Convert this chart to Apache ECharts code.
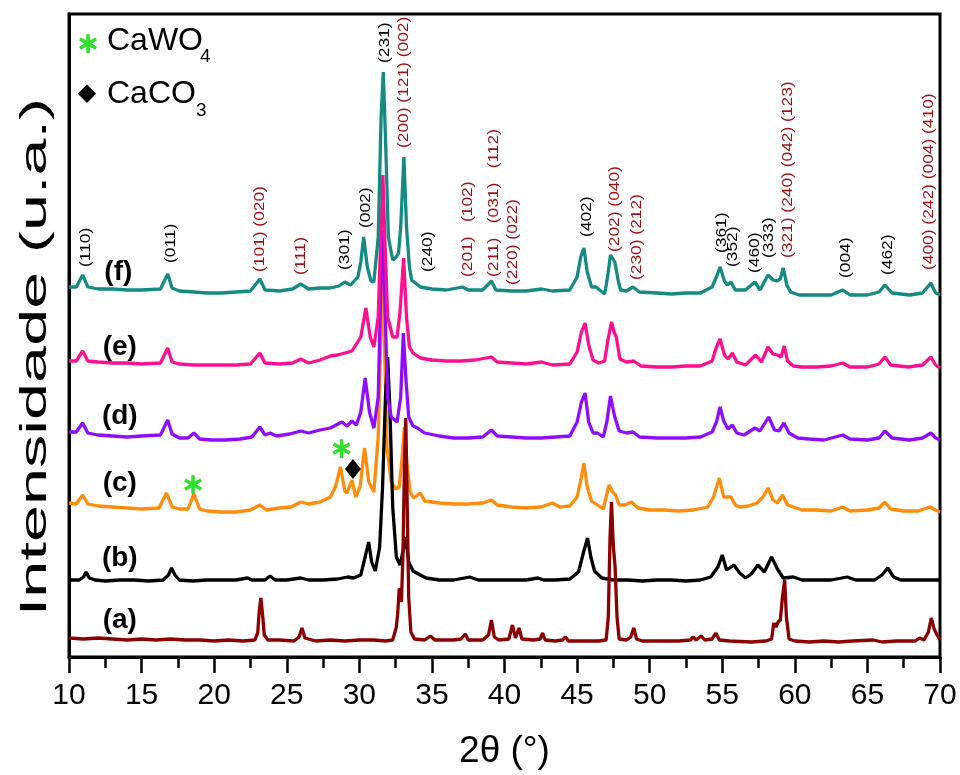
<!DOCTYPE html>
<html><head><meta charset="utf-8">
<script src="https://cdn.jsdelivr.net/npm/echarts@6/dist/echarts.min.js"></script>
<style>html,body{margin:0;padding:0;background:#fff}#c{width:960px;height:775px}</style>
</head><body><div id="c"></div>
<script>
// 2θ (degrees) vs intensity (u.a., patterns already offset vertically)
const patternA = [[10,19],[11,18],[12,19],[13,18],[14,17],[15,18],[16,17],[17,18],[18,17],[19,17],[20,16],[21,17],[22,16],[22.8,17],[23.0,24],[23.1,45],[23.22,59],[23.35,40],[23.45,22],[23.7,17],[24.5,17],[25.5,16],[25.85,20],[26.05,29],[26.25,19],[27,16],[28,17],[29,16],[30,17],[31,17],[31.8,16],[32.3,17],[32.55,30],[32.65,45],[32.75,69],[32.9,55],[33.0,100],[33.12,200],[33.2,239],[33.3,150],[33.4,60],[33.55,25],[33.8,18],[34.5,17],[34.9,21],[35.2,17],[36.5,17],[37.0,18],[37.3,23],[37.5,17],[38.5,17],[38.9,22],[39.1,37],[39.3,20],[39.6,17],[40.3,18],[40.55,32],[40.75,19],[41.0,29],[41.2,18],[42.0,17],[42.45,18],[42.62,24],[42.8,17],[43.5,16],[44.0,17],[44.2,20],[44.4,16],[45.5,16],[46.5,16],[47.0,17],[47.15,40],[47.27,120],[47.37,155],[47.5,110],[47.62,90],[47.75,40],[47.9,18],[48.4,17],[48.7,20],[48.9,29],[49.1,18],[49.5,16],[51,16],[52,16],[52.8,17],[53.0,20],[53.2,17],[53.55,21],[53.8,17],[54.3,18],[54.55,24],[54.8,17],[55.5,16],[57,15],[58.0,16],[58.4,18],[58.55,34],[58.7,30],[58.85,35],[59.0,37],[59.15,60],[59.3,77],[59.42,40],[59.6,18],[60,16],[61,15],[62,16],[63,15],[64,16],[65.4,17],[66,15],[67,16],[68.3,16],[68.6,19],[68.9,17],[69.2,25],[69.4,39],[69.6,28],[69.8,22],[70,17]];
const patternB = [[10,77],[10.7,77],[11.0,80],[11.17,85],[11.4,79],[11.8,77],[12.5,76],[13.5,77],[14.5,77],[15.5,76],[16.5,77],[16.85,82],[17.07,89],[17.3,82],[17.6,77],[18.5,76],[19.5,77],[20.5,77],[21.5,77],[22.3,79],[22.6,77],[23.5,77],[23.85,81],[24.2,77],[25.0,77],[25.96,79],[26.5,77],[27.5,77],[28.5,78],[29.2,80],[29.6,79],[30.1,82],[30.4,100],[30.64,115],[30.85,95],[31.1,86],[31.4,110],[31.6,170],[31.8,260],[31.95,300],[32.1,250],[32.3,150],[32.55,100],[32.8,92],[33.0,105],[33.2,120],[33.4,95],[33.7,86],[34.2,82],[34.6,79],[35.5,77],[36.5,77],[37.6,80],[38.2,77],[39.5,77],[40.5,77],[41.5,77],[42.3,79],[42.7,77],[43.5,77],[44.5,78],[45.1,85],[45.45,105],[45.72,119],[45.95,100],[46.2,86],[46.7,79],[47.5,77],[48.5,77],[49.5,76],[50.5,77],[51.5,77],[52.5,76],[53.5,77],[54.2,80],[54.7,90],[55.0,102],[55.3,87],[55.8,92],[56.2,84],[56.6,79],[57.0,83],[57.45,92],[57.9,85],[58.4,100],[58.8,88],[59.2,79],[59.9,80],[60.5,77],[61.5,77],[62.5,77],[63.6,80],[64.2,77],[65.5,77],[66.0,82],[66.4,89],[66.8,80],[67.3,77],[68.5,77],[69.5,77],[70,77]];
const patternC = [[10,154],[10.5,153],[10.94,162],[11.3,153],[12,151],[13,150],[14,149],[15,148],[16.2,149],[16.72,164],[17.1,150],[17.6,148],[18.2,148],[18.6,163],[19.0,148],[19.5,146],[20.5,145],[21.5,145],[22.5,147],[23.15,152],[23.6,147],[24.5,149],[25.3,150],[25.96,155],[26.5,153],[27.3,155],[28.0,160],[28.35,170],[28.7,190],[29.0,166],[29.15,164],[29.5,177],[29.75,160],[30.05,170],[30.36,209],[30.65,175],[31.0,165],[31.3,220],[31.5,330],[31.6,377],[31.72,320],[31.9,210],[32.2,175],[32.5,168],[32.75,170],[32.95,200],[33.1,230],[33.3,190],[33.5,165],[33.75,159],[34.2,164],[34.5,156],[35.5,154],[36.5,153],[37.5,153],[38.5,154],[39.1,157],[39.5,152],[40.5,150],[41.5,149],[42.5,150],[43.3,154],[43.8,150],[44.5,151],[45.0,160],[45.3,180],[45.47,194],[45.7,170],[46.0,156],[46.4,152],[46.8,148],[47.0,160],[47.2,172],[47.45,165],[47.65,162],[47.9,152],[48.3,152],[48.75,155],[49.2,149],[50,147],[51,147],[52,146],[53,147],[54.0,150],[54.4,160],[54.8,179],[55.1,160],[55.6,160],[55.9,152],[56.2,150],[56.8,151],[57.4,154],[57.8,160],[58.16,169],[58.5,157],[58.8,154],[59.15,162],[59.5,152],[59.9,150],[60.5,147],[61.5,147],[62.5,146],[63.3,150],[63.8,146],[65.0,147],[65.8,149],[66.2,155],[66.6,148],[67.5,146],[68.5,146],[69.3,150],[69.7,147],[70,145]];
const patternD = [[10,225],[10.5,225],[10.94,234],[11.3,224],[12,222],[13,221],[14,220],[15,221],[16.3,222],[16.8,237],[17.1,223],[17.6,219],[18.2,219],[18.6,224],[19.0,218],[19.8,217],[20.8,217],[21.8,218],[22.6,220],[23.15,230],[23.5,222],[23.85,224],[24.3,221],[25.2,223],[25.96,226],[26.5,224],[27.3,227],[28.0,229],[28.8,235],[29.15,231],[29.5,236],[29.8,232],[30.1,245],[30.4,279],[30.7,245],[31.0,229],[31.3,260],[31.5,380],[31.62,427],[31.75,360],[31.95,260],[32.2,240],[32.6,235],[32.85,260],[33.03,324],[33.2,280],[33.4,240],[33.7,231],[34.0,229],[34.5,224],[35.5,221],[36.5,219],[37.5,219],[38.5,220],[39.1,227],[39.5,221],[40.5,220],[41.5,219],[42.5,219],[43.5,220],[44.5,221],[45.0,235],[45.3,255],[45.55,264],[45.8,235],[46.1,224],[46.4,224],[46.8,220],[47.05,235],[47.3,261],[47.45,250],[47.6,240],[47.9,226],[48.4,224],[48.85,225],[49.3,220],[50.5,219],[51.5,219],[52.5,219],[53.5,220],[54.3,225],[54.6,235],[54.85,250],[55.1,236],[55.4,228],[55.7,232],[56.0,224],[56.5,222],[57.25,229],[57.6,226],[58.2,240],[58.6,227],[58.9,226],[59.25,234],[59.6,224],[60.2,219],[61.0,218],[62.0,217],[63.3,222],[63.8,218],[65.0,217],[65.8,219],[66.2,226],[66.7,219],[67.9,217],[68.8,219],[69.37,224],[69.7,219],[70,217]];
const patternE = [[10,296],[10.5,296],[10.94,306],[11.3,296],[12,295],[13,294],[14,294],[15,293],[16.3,294],[16.8,309],[17.1,295],[17.6,293],[18.6,292],[19.5,292],[20.5,292],[21.5,292],[22.5,293],[23.15,304],[23.5,294],[24.5,293],[25.4,294],[25.96,298],[26.5,294],[27.3,297],[28.0,301],[28.5,302],[29.0,304],[29.5,306],[30.1,320],[30.45,349],[30.75,320],[31.0,310],[31.3,340],[31.5,430],[31.62,482],[31.75,420],[31.95,340],[32.3,320],[32.6,320],[32.8,345],[33.05,399],[33.25,340],[33.45,310],[33.7,304],[34.2,299],[35.0,297],[36.0,296],[37.0,296],[38.0,297],[39.1,300],[39.5,295],[40.5,294],[41.5,293],[42.55,295],[43.3,292],[44.5,293],[45.0,305],[45.3,325],[45.55,334],[45.8,312],[46.1,297],[46.5,294],[46.9,296],[47.1,315],[47.37,335],[47.55,325],[47.7,320],[47.95,298],[48.4,295],[48.9,296],[49.4,291],[50.5,290],[51.5,290],[52.5,291],[53.5,291],[54.3,296],[54.6,310],[54.85,318],[55.15,302],[55.4,298],[55.7,304],[56.0,295],[56.6,292],[57.3,302],[57.7,295],[58.15,310],[58.5,303],[58.8,302],[59.05,300],[59.27,311],[59.5,296],[59.9,291],[60.5,290],[61.5,290],[62.5,291],[63.3,294],[63.8,290],[65.0,290],[65.8,293],[66.2,300],[66.6,292],[67.8,290],[68.8,292],[69.37,300],[69.7,292],[70,289]];
const patternF = [[10,370],[10.5,370],[10.94,382],[11.3,370],[12,368],[13,368],[14,367],[15,367],[16.3,368],[16.8,383],[17.1,369],[17.6,366],[18.6,365],[19.5,364],[20.5,364],[21.5,365],[22.5,366],[23.15,378],[23.5,367],[24.5,366],[25.4,368],[25.96,373],[26.5,368],[27.3,369],[28.0,369],[28.6,371],[29.0,375],[29.4,372],[29.9,380],[30.1,395],[30.3,420],[30.55,390],[30.8,376],[31.0,375],[31.3,420],[31.5,540],[31.65,585],[31.8,520],[32.0,420],[32.3,397],[32.55,400],[32.7,404],[32.85,430],[33.07,500],[33.25,430],[33.45,390],[33.6,377],[34.2,370],[35.0,368],[36.0,367],[37.1,370],[37.5,367],[38.5,367],[39.1,376],[39.4,367],[40.5,366],[41.5,366],[42.55,368],[43.3,366],[44.5,367],[45.0,380],[45.25,400],[45.47,409],[45.7,385],[46.0,370],[46.3,370],[46.9,363],[47.1,380],[47.3,402],[47.6,395],[47.85,375],[48.0,367],[48.4,366],[48.85,370],[49.3,365],[50.5,364],[51.5,363],[52.5,364],[53.5,364],[54.3,370],[54.6,380],[54.85,390],[55.15,376],[55.35,372],[55.6,375],[55.9,367],[56.6,367],[57.25,375],[57.6,367],[58.15,382],[58.5,377],[58.75,376],[59.0,378],[59.2,389],[59.45,372],[59.7,365],[60.3,362],[61.5,362],[62.5,362],[63.3,367],[63.8,362],[65.0,362],[65.8,365],[66.2,372],[66.7,364],[67.9,362],[68.8,364],[69.37,374],[69.7,364],[70,362]];

const sampleNames = ['(a)','(b)','(c)','(d)','(e)','(f)'];
const sampleColors = ['#8b0000','#000000','#ff8c0a','#8f0cff','#ff0f8f','#138a82'];
// Miller index annotations: [2θ, intensity at label bottom, text, phase(0=black,1=red)]
const hklLabels = [
  [11.17,390,'(110)',0],[17.02,394,'(011)',0],[23.15,385,'(101) (020)',1],[25.98,382,'(111)',1],
  [29.0,387,'(301)',0],[30.45,429,'(002)',0],[31.76,594,'(231)',0],[33.07,509,'(200) (121) (002)',1],
  [34.72,385,'(240)',0],[37.48,380,'(201)   (102)',1],[39.27,380,'(211)   (031)   (112)',1],[40.58,372,'(220) (022)',1],
  [45.67,420,'(402)',0],[47.6,405,'(202) (040)',1],[49.12,377,'(230) (212)',1],[54.97,404,'(361)',0],
  [55.73,390,'(352)',0],[57.25,384,'(460)',0],[58.2,399,'(333)',0],[59.52,399,'(321) (240) (042) (123)',1],
  [63.5,379,'(004)',0],[66.4,382,'(462)',0],[69.23,387,'(400) (242) (004) (410)',1]
];
// sample label positions [2θ, intensity]
const sampleLabelPos = [[13.5,37],[13.5,99],[13.5,174],[13.5,241],[13.5,310],[13.4,385]];
const phaseMarks = {caWO4: [[18.54,173],[28.78,209]], caCO3: [[29.56,188]]};

const FONT = 'Liberation Sans, Arial, Helvetica, sans-serif';
const chart = echarts.init(document.getElementById('c'), null, {renderer:'canvas'});
const datasets = [patternA, patternB, patternC, patternD, patternE, patternF];
const drawOrder = [2,1,3,4,5,0];
const series = drawOrder.map(i => ({
  type:'line', name: sampleNames[i], data: datasets[i], showSymbol:false, symbol:'none',
  lineStyle:{color: sampleColors[i], width:3.3}, itemStyle:{color:sampleColors[i]}, animation:false, z: 2,
  markPoint: i === 2 ? {
    animation:false,
    data: [
      ...phaseMarks.caWO4.map(c => ({coord:c, symbol:'circle', symbolSize:1, itemStyle:{color:'rgba(0,0,0,0)'},
        label:{show:true, formatter:'∗', color:'#2ee02e', fontSize:30, fontWeight:'bold', fontFamily:'DejaVu Sans', position:'inside', offset:[0,2]}})),
      ...phaseMarks.caCO3.map(c => ({coord:c, symbol:'diamond', symbolSize:[16,20], itemStyle:{color:'#000'}, label:{show:false}}))
    ]
  } : undefined
}));

chart.setOption({
  backgroundColor:'#fff',
  animation:false,
  grid:{left:69, right:20, top:14, bottom:118, show:true, borderColor:'#000', borderWidth:3, containLabel:false},
  xAxis:{type:'value', min:10, max:70, interval:5,
    name:'2θ (°)', nameLocation:'middle', nameGap:76,
    nameTextStyle:{fontSize:37, fontFamily:FONT, color:'#000'},
    axisLine:{show:true, onZero:false, lineStyle:{color:'#000', width:3}},
    axisTick:{show:true, inside:false, length:16, lineStyle:{color:'#000', width:2.5}},
    minorTick:{show:true, splitNumber:2, length:11, lineStyle:{color:'#000', width:2.5}},
    axisLabel:{fontSize:30, fontFamily:FONT, color:'#000', margin:24},
    splitLine:{show:false}},
  yAxis:{type:'value', min:0, max:643,
    axisLine:{show:true, lineStyle:{color:'#000', width:3}},
    axisTick:{show:false}, axisLabel:{show:false}, splitLine:{show:false}},
  series
});

const graphics = [];
graphics.push({type:'text', x:36, y:357, rotation:Math.PI/2, scaleX:1.85, z:10,
  style:{text:'Intensidade (u.a.)', fontSize:36, fontFamily:FONT, fill:'#000', align:'center', verticalAlign:'middle'}});
hklLabels.forEach(l => {
  const p = chart.convertToPixel({gridIndex:0}, [l[0], l[1]]);
  graphics.push({type:'text', x:p[0], y:p[1], rotation:Math.PI/2, scaleX:1.12, z:10,
    style:{text:l[2], fontSize:15.5, fontFamily:FONT, fill: l[3] ? '#9e0f0f' : '#000', align:'left', verticalAlign:'middle'}});
});
sampleLabelPos.forEach((pos, i) => {
  const p = chart.convertToPixel({gridIndex:0}, pos);
  graphics.push({type:'text', x:p[0], y:p[1], z:10,
    style:{text:sampleNames[i], fontSize:28, fontWeight:'bold', fontFamily:FONT, fill:'#000', align:'center', verticalAlign:'middle'}});
});
// legend
graphics.push({type:'text', x:88, y:45, z:10, style:{text:'∗', fontSize:30, fontWeight:'bold', fontFamily:'DejaVu Sans', fill:'#2ee02e', align:'center', verticalAlign:'middle'}});
graphics.push({type:'text', x:107, y:41, z:10, style:{text:'CaWO', fontSize:32, fontFamily:FONT, fill:'#000', align:'left', verticalAlign:'middle'}});
graphics.push({type:'text', x:200, y:57, z:10, style:{text:'4', fontSize:19, fontFamily:FONT, fill:'#000', align:'left', verticalAlign:'middle'}});
graphics.push({type:'text', x:87, y:94, z:10, style:{text:'◆', fontSize:24, fontFamily:'DejaVu Sans', fill:'#000', align:'center', verticalAlign:'middle'}});
graphics.push({type:'text', x:107, y:94, z:10, style:{text:'CaCO', fontSize:32, fontFamily:FONT, fill:'#000', align:'left', verticalAlign:'middle'}});
graphics.push({type:'text', x:196, y:111, z:10, style:{text:'3', fontSize:19, fontFamily:FONT, fill:'#000', align:'left', verticalAlign:'middle'}});
chart.setOption({graphic: graphics});
</script></body></html>
